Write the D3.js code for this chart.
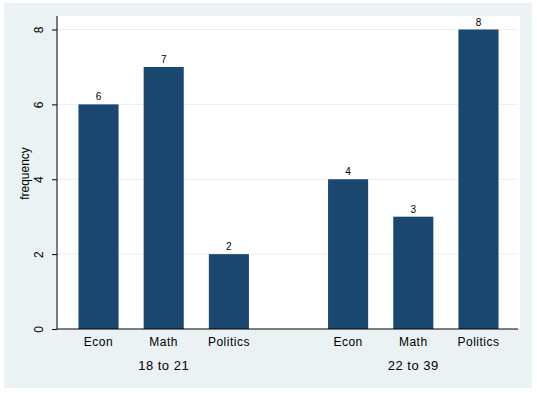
<!DOCTYPE html>
<html>
<head>
<meta charset="utf-8">
<script src="https://cdn.jsdelivr.net/npm/d3@7"></script>
<style>
  body { margin: 0; background: #fff; }
  text { font-family: "Liberation Sans", Arial, sans-serif; fill: #000; }
</style>
</head>
<body>
<div id="chart"></div>
<script>
// data
const groups = ['18 to 21', '22 to 39'];
const majors = ['Econ', 'Math', 'Politics'];
const counts = [
  [6, 7, 2],   // 18 to 21
  [4, 3, 8]    // 22 to 39
];
const yTicks = [0, 2, 4, 6, 8];

const width = 537, height = 393;
const outer = {left: 4, top: 3, right: 532, bottom: 388};
const plot = {left: 57, top: 16, right: 520, bottom: 329};
const barColor = '#1a476f';

const svg = d3.select('#chart').append('svg')
    .attr('width', width)
    .attr('height', height);

// graph region background
svg.append('rect')
    .attr('x', outer.left).attr('y', outer.top)
    .attr('width', outer.right - outer.left)
    .attr('height', outer.bottom - outer.top)
    .attr('fill', '#eaf2f3');

// plot region
svg.append('rect')
    .attr('x', plot.left).attr('y', plot.top)
    .attr('width', plot.right - plot.left)
    .attr('height', plot.bottom - plot.top)
    .attr('fill', '#fff');

// scales
const yScale = d3.scaleLinear()
    .domain([0, 8])
    .range([plot.bottom, 29.5]);

const xGroup = d3.scaleBand()
    .domain(groups)
    .range([plot.left, plot.right])
    .paddingInner(0.317)
    .paddingOuter(0.086);

const xMajor = d3.scaleBand()
    .domain(majors)
    .range([0, xGroup.bandwidth()])
    .paddingInner(0.385)
    .paddingOuter(0);

// gridlines
svg.append('g')
    .selectAll('line')
    .data(yTicks.filter(d => d > 0))
  .join('line')
    .attr('x1', plot.left).attr('x2', plot.right - 2)
    .attr('y1', d => yScale(d)).attr('y2', d => yScale(d))
    .attr('stroke', '#eaeeef')
    .attr('stroke-width', 1);

// bars
const rows = [];
groups.forEach((g, i) => majors.forEach((m, j) => rows.push({group: g, major: m, value: counts[i][j]})));

const barG = svg.append('g');
barG.selectAll('rect')
    .data(rows)
  .join('rect')
    .attr('x', d => xGroup(d.group) + xMajor(d.major))
    .attr('y', d => yScale(d.value))
    .attr('width', xMajor.bandwidth())
    .attr('height', d => plot.bottom - yScale(d.value))
    .attr('fill', barColor);

// value labels
barG.selectAll('text')
    .data(rows)
  .join('text')
    .attr('x', d => xGroup(d.group) + xMajor(d.major) + xMajor.bandwidth() / 2)
    .attr('y', d => yScale(d.value) - 4)
    .attr('text-anchor', 'middle')
    .style('font-size', '10px')
    .text(d => d.value);

// y axis
const yAxis = svg.append('g')
    .attr('transform', `translate(${plot.left},0)`)
    .call(d3.axisLeft(yScale).tickValues(yTicks).tickSize(5).tickPadding(0));
yAxis.select('.domain').remove();
yAxis.append('line')
    .attr('x1', 0).attr('x2', 0)
    .attr('y1', plot.top).attr('y2', plot.bottom)
    .attr('stroke', '#000');
yAxis.selectAll('.tick line').attr('stroke', '#000');
yAxis.selectAll('.tick text')
    .attr('x', null).attr('dy', null)
    .attr('transform', 'translate(-14,0) rotate(-90)')
    .attr('text-anchor', 'middle')
    .style('font-size', '12px')
    .style('font-family', '"Liberation Sans", Arial, sans-serif')
    .attr('fill', '#000');

// y title
svg.append('text')
    .attr('transform', `translate(29,${(plot.top + plot.bottom) / 2 + 1}) rotate(-90)`)
    .attr('text-anchor', 'middle')
    .style('font-size', '12px')
    .text('frequency');

// x axis line
svg.append('line')
    .attr('x1', plot.left).attr('x2', plot.right - 2)
    .attr('y1', plot.bottom).attr('y2', plot.bottom)
    .attr('stroke', '#000');

// category labels
svg.append('g')
    .selectAll('text')
    .data(rows)
  .join('text')
    .attr('x', d => xGroup(d.group) + xMajor(d.major) + xMajor.bandwidth() / 2)
    .attr('y', plot.bottom + 17)
    .attr('text-anchor', 'middle')
    .style('font-size', '12px')
    .style('letter-spacing', '0.5px')
    .text(d => d.major);

// group labels
svg.append('g')
    .selectAll('text')
    .data(groups)
  .join('text')
    .attr('x', d => xGroup(d) + xGroup.bandwidth() / 2)
    .attr('y', plot.bottom + 41)
    .attr('text-anchor', 'middle')
    .style('font-size', '13px')
    .style('letter-spacing', '0.5px')
    .text(d => d);
</script>
</body>
</html>
